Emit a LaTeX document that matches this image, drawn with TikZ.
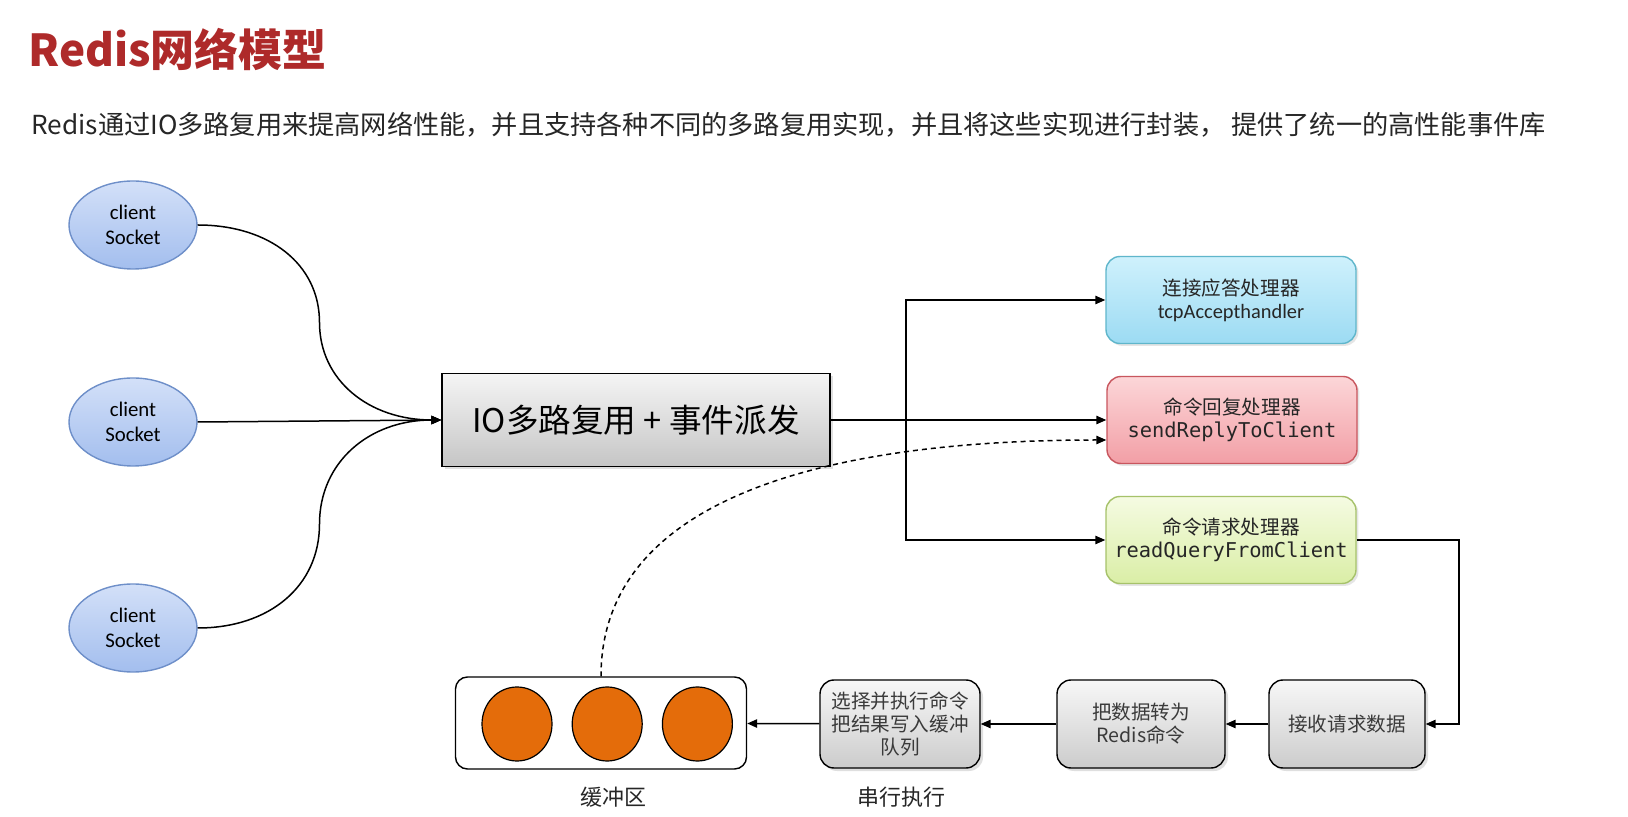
\documentclass[tikz,border=0pt]{standalone}
\usepackage{fontspec}
\setmainfont{Noto Sans CJK SC}
\setmonofont{DejaVu Sans Mono}
\newfontfamily\enfont{Carlito}
\usepackage{tikz}
\usetikzlibrary{arrows.meta,positioning,calc,shapes.geometric,shadows}
\definecolor{rdtitle}{HTML}{AE2A2A}
\definecolor{rdtext}{HTML}{262626}
\definecolor{rdgrey}{HTML}{3A3A3A}
\definecolor{socktop}{HTML}{D3E0F8}
\definecolor{sockbot}{HTML}{A3BEEE}
\definecolor{sockline}{HTML}{6E8FC9}
\definecolor{acctop}{HTML}{CFF1FC}
\definecolor{accbot}{HTML}{9CDBF3}
\definecolor{accline}{HTML}{5FB6CB}
\definecolor{reptop}{HTML}{FCD6D8}
\definecolor{repbot}{HTML}{F29FA6}
\definecolor{repline}{HTML}{C8565E}
\definecolor{qrytop}{HTML}{F5FBE2}
\definecolor{qrybot}{HTML}{DAEEA6}
\definecolor{qryline}{HTML}{A6C26A}
\definecolor{bufdot}{HTML}{E46C0A}

\begin{document}
\begin{tikzpicture}[
  x=0.5pt, y=-0.5pt,
  sock/.style={ellipse, draw=sockline, line width=0.7pt, top color=socktop, bottom color=sockbot,
               minimum width=64pt, minimum height=44pt, inner sep=0pt, align=center,
               font=\enfont\fontsize{10.4}{12.5}\selectfont},
  mux/.style={rectangle, draw=black, line width=0.7pt, top color=gray!8, bottom color=gray!45,
              minimum width=194pt, minimum height=46.5pt, font=\fontsize{16.3}{19}\selectfont,
              drop shadow={opacity=0.25, shadow xshift=1.5pt, shadow yshift=-1.5pt}},
  handler/.style={rectangle, rounded corners=7pt, line width=0.7pt, minimum width=125pt,
                  minimum height=43.5pt, inner sep=0pt, align=center, text=rdtext,
                  font=\fontsize{9.8}{11.5}\selectfont,
                  drop shadow={opacity=0.2, shadow xshift=1.2pt, shadow yshift=-1.2pt}},
  stepbox/.style={rectangle, rounded corners=7pt, draw=black, line width=0.7pt,
                  top color=gray!6, bottom color=gray!40, minimum height=44pt, inner sep=0pt,
                  align=center, text=rdgrey, font=\fontsize{9.8}{11.5}\selectfont,
                  drop shadow={opacity=0.25, shadow xshift=1.5pt, shadow yshift=-1.5pt}},
  bufbox/.style={rectangle, rounded corners=6pt, draw=black, line width=0.7pt, fill=white,
                 minimum width=145.5pt, minimum height=46pt},
  dot/.style={ellipse, draw=black, line width=0.6pt, fill=bufdot, minimum width=35pt,
              minimum height=37pt, inner sep=0pt},
  undertext/.style={text=rdtext, font=\fontsize{11}{13}\selectfont},
  arr/.style={-{Triangle[length=5pt,width=4.2pt]}, line width=0.75pt}
]
\useasboundingbox (0,0) rectangle (1628,817);
\fill[white] (0,0) rectangle (1628,817);

% heading
\node[anchor=west, inner sep=0pt, text=rdtitle, font=\fontsize{22}{26}\selectfont\bfseries] (title) at (28,49) {Redis网络模型};
\node[anchor=west, inner sep=0pt, text=rdtext, font=\fontsize{13.1}{16}\selectfont] (intro) at (31,125) {Redis通过IO多路复用来提高网络性能，并且支持各种不同的多路复用实现，并且将这些实现进行封装， 提供了统一的高性能事件库};

% clients and dispatcher
\node[sock] (cs1) at (133,225) {client\\Socket};
\node[sock] (cs2) at (133,422) {client\\Socket};
\node[sock] (cs3) at (133,628) {client\\Socket};
\node[mux] (io) at (636,420) {IO多路复用 + 事件派发};

% handlers
\node[handler, draw=accline, top color=acctop, bottom color=accbot] (accept) at (1231,300) {连接应答处理器\\{\enfont\fontsize{10.2}{11.5}\selectfont tcpAccepthandler}};
\node[handler, draw=repline, top color=reptop, bottom color=repbot] (reply) at (1232,420) {命令回复处理器\\{\ttfamily\fontsize{10.2}{11.5}\selectfont sendReplyToClient}};
\node[handler, draw=qryline, top color=qrytop, bottom color=qrybot] (query) at (1231,540) {命令请求处理器\\{\ttfamily\fontsize{10.2}{11.5}\selectfont readQueryFromClient}};

% request pipeline
\node[stepbox, minimum width=78pt] (recv) at (1347,724) {接收请求数据};
\node[stepbox, minimum width=84pt] (conv) at (1141,724) {把数据转为\\Redis命令};
\node[stepbox, minimum width=80pt] (exec) at (900,724) {选择并执行命令\\把结果写入缓冲\\队列};
\node[bufbox] (buf) at (601,723) {};
\node[dot] (d1) at (517,724) {};
\node[dot, right=9.5pt of d1] (d2) {};
\node[dot, right=9.5pt of d2] (d3) {};
\node[undertext] (buflabel) at (613,797) {缓冲区};
\node[undertext] (execlabel) at (901,797) {串行执行};

\coordinate (split) at (906,420);
\coordinate (bend) at (1459,724);

\draw[arr] (cs1.east) .. controls +(72,0) and +(0,-58) .. ($(cs1.east)!.5!(io.west)$)
  .. controls +(0,58) and +(-72,0) .. (io.west);
\draw[arr] (cs2.east) -- (io.west);
\draw[arr] (cs3.east) .. controls +(72,0) and +(0,62) .. ($(cs3.east)!.5!(io.west)$)
  .. controls +(0,-62) and +(-72,0) .. (io.west);
\draw[arr] (io.east) -- (reply.west);
\draw[arr] (split) |- (accept.west);
\draw[arr] (split) |- (query.west);
\draw[arr] (query.east) -| (bend) -- (recv.east);
\draw[arr] (recv) -- (conv);
\draw[arr] (conv) -- (exec);
\draw[arr] (exec) -- (buf);
\draw[arr, dash pattern=on 2.5pt off 2pt] (buf.north) .. controls +(0,-170) and +(-300,0) .. ($(reply.west)+(0,20)$);
\end{tikzpicture}
\end{document}
